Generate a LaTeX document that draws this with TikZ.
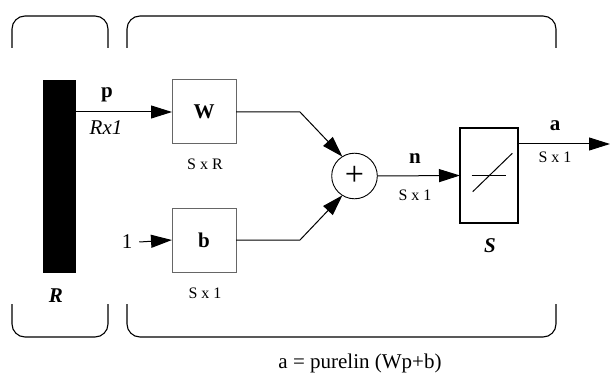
\documentclass[tikz,border=0pt]{standalone}
\usepackage{fontspec}
\setmainfont{Liberation Serif}
\usetikzlibrary{arrows.meta}
\begin{document}
\begin{tikzpicture}[x=1pt,y=-1pt,
  every node/.style={inner sep=0pt, outer sep=0pt},
  conn/.style={line width=1pt},
  arr/.style={conn,-{Triangle[length=21pt,width=13pt]}},
  wbox/.style={draw=black!60, line width=1pt, minimum width=64pt, minimum height=64pt, fill=white, font=\fontsize{21}{24}\selectfont\bfseries},
  brk/.style={line width=1.1pt, rounded corners=13pt},
  big/.style={font=\fontsize{21}{24}\selectfont},
  small/.style={font=\fontsize{16}{18}\selectfont}]
\useasboundingbox (0,0) rectangle (610,374);
% brackets
\draw[brk] (12,48) -- (12,16) -- (108,16) -- (108,48);
\draw[brk] (127,48) -- (127,16) -- (556,16) -- (556,48);
\draw[brk] (12,304) -- (12,337) -- (108,337) -- (108,304);
\draw[brk] (127,304) -- (127,337) -- (556,337) -- (556,304);
% blocks
\node[fill=black, minimum width=33pt, minimum height=193pt] (bar) at (59.5,176.5) {};
\node[wbox] (W) at (204,112) {W};
\node[wbox] (B) at (204,240) {b};
\node[circle, draw, minimum size=45.6pt, line width=0.9pt] (sum) at (354.5,176) {};
\node[font=\fontsize{34}{36}\selectfont] (plus) at (sum.center) {+};
\node[draw, line width=1.1pt, minimum width=58pt, minimum height=95pt] (S) at (489,175.5) {};
\coordinate (tfl) at (471.7,175.7);
\coordinate (tfr) at (506,175.7);
\coordinate (tdl) at (472.7,191.7);
\coordinate (tdr) at (512.3,153.3);
\draw[conn] (tfl) -- (tfr);
\draw[conn] (tdl) -- (tdr);
% connectors
\node[big] (one) at (127,242) {1};
\draw[arr] ([xshift=7pt]one.east) -- (B.west);
\draw[arr] (bar.east |- W.west) -- (W.west);
\coordinate (w1) at (300,112);
\coordinate (b1) at (300,240);
\draw[arr] (W.east) -- (w1) -- (sum.122);
\draw[arr] (B.east) -- (b1) -- (sum.238);
\draw[arr] (sum.east) -- (S.west);
\coordinate (aend) at (610,144);
\draw[arr] (S.east |- aend) -- (aend);
% labels
\node[big] (lp) at (107,95) {\textbf{p}};
\node[big] (lrx) at (106,128) {\textit{Rx1}};
\node[small] (lsr) at (205,164) {S x R};
\node[small] (ls1b) at (205,293) {S x 1};
\node[big] (ln) at (415,159) {\textbf{n}};
\node[small] (ls1n) at (415,195) {S x 1};
\node[big] (la) at (555,126) {\textbf{a}};
\node[small] (ls1a) at (555,157) {S x 1};
\node[big] (lS) at (490,246) {\textbf{\textit{S}}};
\node[big] (lR) at (56,296) {\textbf{\textit{R}}};
\node[big] (lf) at (360,363) {a = purelin (Wp+b)};
\end{tikzpicture}
\end{document}
